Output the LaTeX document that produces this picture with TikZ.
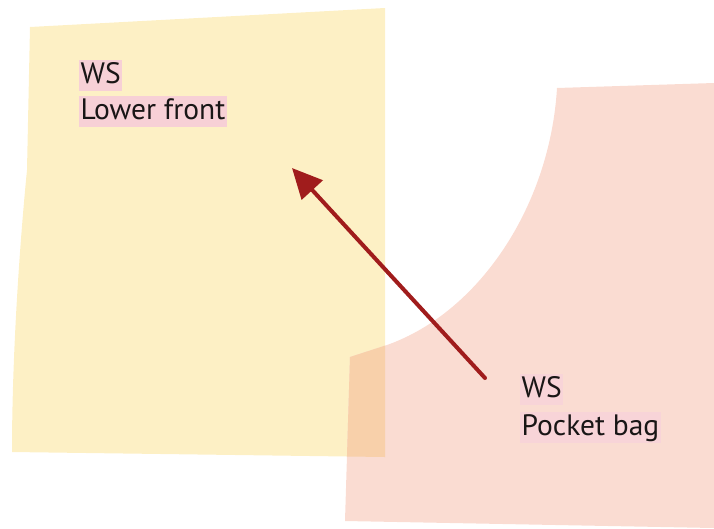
\documentclass[tikz,border=0pt]{standalone}
\usepackage{fontspec}
\setmainfont{PT Sans}
\usetikzlibrary{arrows.meta}

\definecolor{frontyellow}{RGB}{253,240,197}
\definecolor{bagpink}{RGB}{250,220,210}
\definecolor{overlaporange}{RGB}{248,208,170}
\definecolor{arrowred}{RGB}{160,28,28}
\definecolor{hlyellow}{RGB}{247,208,214}
\definecolor{hlpink}{RGB}{248,212,216}
\definecolor{textblack}{RGB}{25,22,22}

\newcommand\frontshape{(30,27) -- (385,8) -- (385,457) -- (12,452) .. controls (12,340) and (22,220) .. (27,170) -- cycle}
\newcommand\bagshape{(350,357) -- (387,345) .. controls (480,312) and (550,205) .. (557,88) -- (714,83) -- (714,528) -- (345,521) -- cycle}

\tikzset{
    wstext/.style={anchor=base west, inner xsep=1.5pt, inner ysep=1pt,
        text height=22pt, text depth=7pt, text=textblack,
        font=\fontsize{29.5}{34}\selectfont},
}

\begin{document}
\begin{tikzpicture}[x=1pt, y=-1pt, >={Triangle[length=30pt, width=28pt]}]
    \useasboundingbox (0,0) rectangle (714,528);

    % Lower front
    \fill[frontyellow] \frontshape;

    % Pocket bag
    \fill[bagpink] \bagshape;
    \begin{scope}
        \clip \frontshape;
        \fill[overlaporange] \bagshape;
    \end{scope}

    % Labels
    \node[wstext, fill=hlyellow] (frontws) at (79,83) {WS};
    \node[wstext, fill=hlyellow] (fronttxt) at (79,119) {Lower front};
    \node[wstext, fill=hlpink] (bagws) at (520,397) {WS};
    \node[wstext, fill=hlpink] (bagtxt) at (520,435) {Pocket bag};

    % Arrow
    \coordinate (tail) at (485,378);
    \coordinate (tip) at (292,168);
    \draw[->, arrowred, line width=4pt, line cap=round] (tail) -- (tip);
\end{tikzpicture}
\end{document}
